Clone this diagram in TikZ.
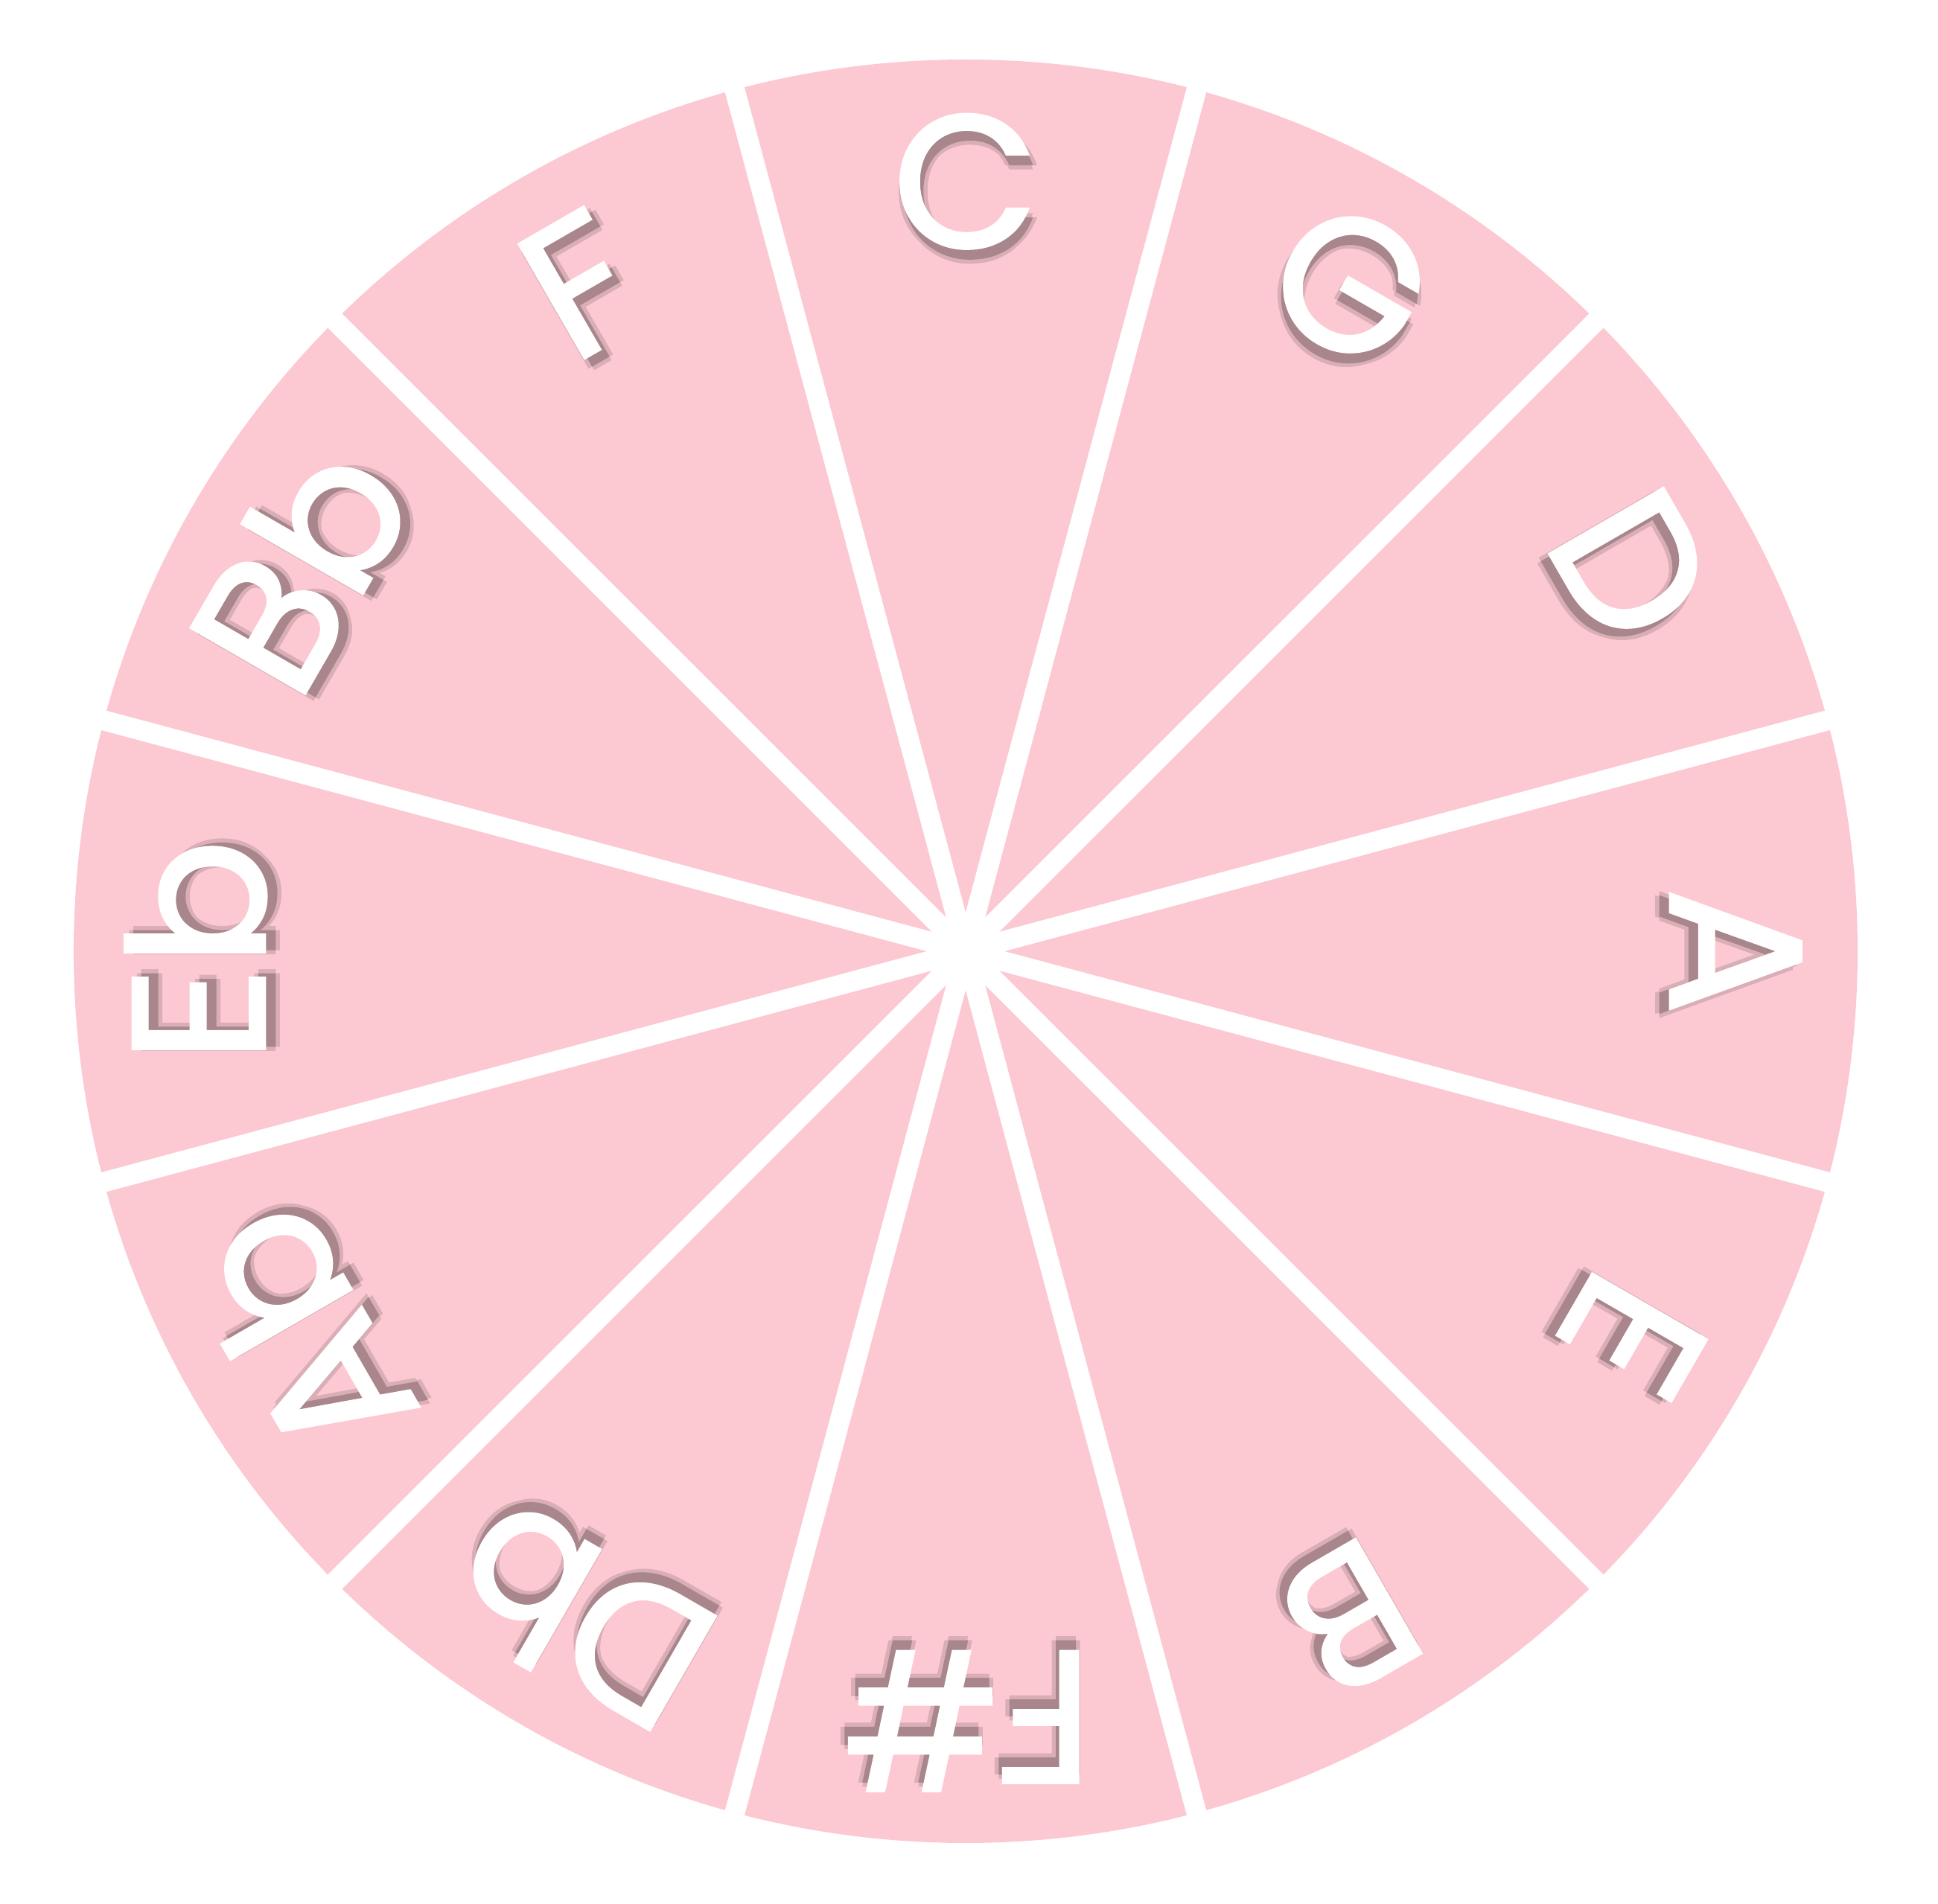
\documentclass[tikz,border=0pt]{standalone}
\usepackage{fontspec}
\setmainfont{Poppins}
\newfontfamily\keyfont{Poppins}[FakeBold=1.6]
\usepackage{tikz}
\definecolor{wheelpink}{HTML}{FCC9D2}
\definecolor{keyshadow}{HTML}{A8868C}
\colorlet{keyhalo}{keyshadow!40!wheelpink}
\newcommand\keylayer[4]{\rlap{\kern#1mm\raisebox{#2mm}{\color{#3}#4}}}
\newcommand\shadedkey[1]{%
  \keylayer{-0.1}{-1.3}{keyhalo}{#1}\keylayer{1.0}{-1.3}{keyhalo}{#1}%
  \keylayer{0.45}{-0.75}{keyhalo}{#1}\keylayer{0.45}{-1.85}{keyhalo}{#1}%
  \keylayer{0.45}{-1.3}{keyshadow}{#1}#1}

\begin{document}
\begin{tikzpicture}[
wheel/.style={fill=wheelpink},
gap/.style={draw=white, line width=0.27cm},
keylabel/.style={text=white, font=\keyfont\fontsize{72}{76}\selectfont, inner sep=0pt}
]
\useasboundingbox (-12.97,-12.80) rectangle (13.06,12.78);
\fill[wheel] (0,0) circle (11.98);
\foreach \a in {15,45,...,165}
  \draw[gap] (\a:12.2) -- (\a+180:12.2);
\foreach \k/\a [count=\i] in {C/90, G/60, D/30, A/0, E/-30, B/-60, F\#/-90, Db/-120, Ab/-150, Eb/180, Bb/150, F/120}{
  \begin{scope}[rotate=\a-90, transform shape]
    \node[keylabel] (key\i) at (0, 10.25) {\shadedkey{\k}};
  \end{scope}
}
\end{tikzpicture}
\end{document}
